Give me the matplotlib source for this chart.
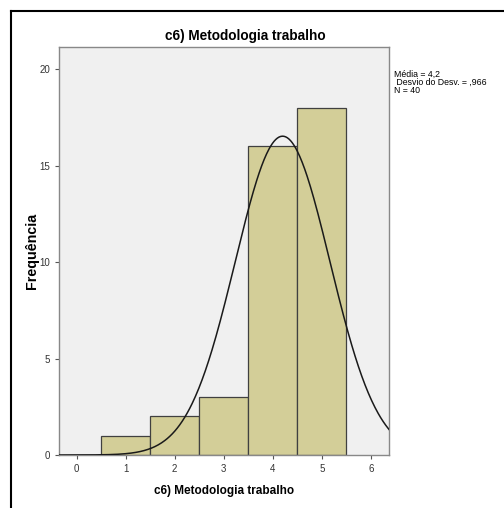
import numpy as np
import matplotlib
matplotlib.use("Agg")
import matplotlib.pyplot as plt
from matplotlib.lines import Line2D

# histogram data
values = [1, 2, 3, 4, 5]
counts = [1, 2, 3, 16, 18]
mean = 4.2
sd = 0.966
n_total = 40
xticks = [0, 1, 2, 3, 4, 5, 6]
yticks = [0, 5, 10, 15, 20]

plt.rcParams["font.family"] = ["Liberation Sans Narrow", "Liberation Sans", "DejaVu Sans"]

W, H = 504, 508
fig = plt.figure(figsize=(W / 100, H / 100), dpi=100)
ax = fig.add_axes([59 / W, 1 - 455 / H, (389 - 59) / W, (455 - 47) / H])

ax.set_facecolor("#f0f0f0")
ax.bar(values, counts, width=1.0, color="#d3ce98", edgecolor="#404040", linewidth=0.9, zorder=2)

xs = np.linspace(-0.36, 6.37, 400)
ys = n_total * np.exp(-0.5 * ((xs - mean) / sd) ** 2) / (sd * np.sqrt(2 * np.pi))
ax.plot(xs, ys, color="#1a1a1a", linewidth=1.1, zorder=3)

ax.set_xlim(-0.36, 6.37)
ax.set_ylim(0, 21.14)
ax.set_xticks(xticks)
ax.set_yticks(yticks)
ax.tick_params(labelsize=7, length=3, color="#555555", labelcolor="#333333", width=0.8)
for s in ax.spines.values():
    s.set_color("#888888")
    s.set_linewidth(1.0)

fig.text(245 / W, 1 - 36 / H, "c6) Metodologia trabalho", ha="center", va="center",
         fontsize=9.8, fontweight="bold")
fig.text(224 / W, 1 - 491 / H, "c6) Metodologia trabalho", ha="center", va="center",
         fontsize=8.5, fontweight="bold")
fig.text(32 / W, 1 - 251 / H, "Frequência", ha="center", va="center", rotation=90,
         fontsize=10.3, fontweight="bold")

stats = f"Média = 4,2\n Desvio do Desv. = ,966\nN = {n_total}"
fig.text(394 / W, 1 - 70 / H, stats, ha="left", va="top", fontsize=6.3, linespacing=0.85)

# outer frame
fig.add_artist(Line2D([11 / W, 1], [1 - 11 / H, 1 - 11 / H], color="black", linewidth=1.5,
                      transform=fig.transFigure))
fig.add_artist(Line2D([11 / W, 11 / W], [0, 1 - 11 / H], color="black", linewidth=1.5,
                      transform=fig.transFigure))

fig.savefig("out.png", dpi=100)
